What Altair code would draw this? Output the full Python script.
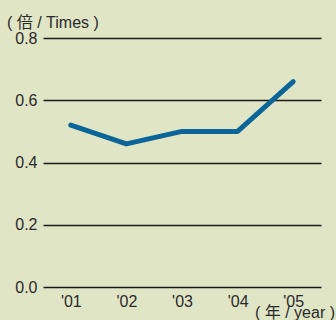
import altair as alt
import pandas as pd

# Debt-to-equity style ratio by fiscal year
years = ["'01", "'02", "'03", "'04", "'05"]
ratio = [0.52, 0.46, 0.50, 0.50, 0.66]
y_ticks = [0.0, 0.2, 0.4, 0.6, 0.8]
unit_label = ["( 倍 / Times )"]
year_label = ["( 年 / year )"]

FONT = "Liberation Sans, Noto Sans CJK JP, sans-serif"
BG = "#e0e5c6"
INK = "#2a2a2a"
W, H = 278, 249

df = pd.DataFrame({"year": years, "ratio": ratio})

line = alt.Chart(df).mark_line(
    color="#0b6598", strokeWidth=5, strokeCap="round", strokeJoin="round"
).encode(
    x=alt.X(
        "year:O",
        sort=years,
        scale=alt.Scale(type="point", padding=0.5),
        axis=alt.Axis(
            title=None, ticks=False, domain=False, labelPadding=6,
            labelFont=FONT, labelFontSize=16, labelColor=INK, labelAngle=0,
        ),
    ),
    y=alt.Y(
        "ratio:Q",
        scale=alt.Scale(domain=[0, 0.8], nice=False, zero=True),
        axis=alt.Axis(
            title=None, values=y_ticks, format=".1f", ticks=False, domain=False,
            grid=True, gridColor="#1a1a1a", gridWidth=1.5, gridOpacity=1,
            labelPadding=6, labelFont=FONT, labelFontSize=16, labelColor=INK,
        ),
    ),
)

unit_text = alt.Chart(pd.DataFrame({"t": unit_label})).mark_text(
    align="left", baseline="alphabetic", font=FONT, fontSize=16, color=INK
).encode(text="t:N", x=alt.value(-36), y=alt.value(-10))

year_text = alt.Chart(pd.DataFrame({"t": year_label})).mark_text(
    align="right", baseline="alphabetic", font=FONT, fontSize=16, color=INK
).encode(text="t:N", x=alt.value(292), y=alt.value(280))

chart = alt.layer(line, unit_text, year_text).properties(
    width=W,
    height=H,
    autosize=alt.AutoSizeParams(type="none"),
    padding={"left": 43, "top": 38, "right": 15, "bottom": 33},
    background=BG,
).configure_view(stroke=None)

chart.save("out.html", embed_options={"renderer": "svg", "actions": False})
